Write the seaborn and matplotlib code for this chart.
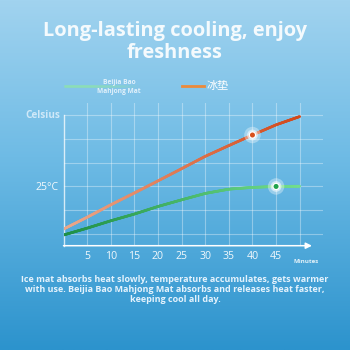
import numpy as np
import pandas as pd
import matplotlib
matplotlib.use("Agg")
import matplotlib.pyplot as plt
import seaborn as sns
from matplotlib.collections import LineCollection
from matplotlib.colors import LinearSegmentedColormap, to_rgba

# ---------------- data ----------------
minutes = [0, 5, 10, 15, 20, 25, 30, 35, 40, 45, 50]
ice_mat = [21.4, 22.4, 23.45, 24.45, 25.47, 26.5, 27.54, 28.45, 29.34, 30.2, 30.9]
mahjong_mat = [20.9, 21.48, 22.1, 22.67, 23.31, 23.87, 24.41, 24.77, 24.92, 25.0, 25.02]
x_tick_values = [5, 10, 15, 20, 25, 30, 35, 40, 45, 50]
x_tick_labels = ["5", "10", "15", "20", "25", "30", "35", "40", "45", ""]
y_grid_values = [21, 23, 25, 27, 29, 31]
y_grid_labels = ["", "", "25°C", "", "", ""]
series_names = ["Beijia Bao\nMahjong Mat", "冰垫"]
ice_highlight_idx = 8      # 40 min
mahjong_highlight_idx = 9  # 45 min

title_lines = ["Long-lasting cooling, enjoy", "freshness"]
footer_lines = [
    "Ice mat absorbs heat slowly, temperature accumulates, gets warmer",
    "with use. Beijia Bao Mahjong Mat absorbs and releases heat faster,",
    "keeping cool all day.",
]

FONT = ["Open Sans", "DejaVu Sans"]
CJK = ["Noto Sans CJK SC", "DejaVu Sans"]
plt.rcParams["font.family"] = FONT

W = H = 350
fig = plt.figure(figsize=(3.5, 3.5), dpi=100)

# ---------------- background gradient ----------------
bg = fig.add_axes([0, 0, 1, 1])
bg.set_axis_off()
bg_cmap = LinearSegmentedColormap.from_list(
    "bg", [(0.0, "#a1d3ef"), (0.45, "#6ebbe5"), (1.0, "#2c93cd")])
grad = np.linspace(0, 1, 256).reshape(-1, 1)
bg.imshow(grad, aspect="auto", cmap=bg_cmap, extent=[0, 1, 0, 1], origin="upper")
bg.set_xlim(0, 1)
bg.set_ylim(0, 1)

def px(x, y):
    return x / W, 1 - y / H

# ---------------- main axes ----------------
x0_px, x_end_px = 63.5, 323.0
ax_bottom_px, ax_top_px = 245.7, 103.0
ax = fig.add_axes([x0_px / W, 1 - ax_bottom_px / H,
                   (x_end_px - x0_px) / W, (ax_bottom_px - ax_top_px) / H])
ax.patch.set_alpha(0)

df = pd.DataFrame({"minutes": minutes, "ice": ice_mat, "mahjong": mahjong_mat})

def gradient_line(ax, col, c0, c1, lw):
    sns.lineplot(data=df, x="minutes", y=col, ax=ax, color=c1, lw=lw)
    line = ax.lines[-1]
    xy = line.get_xydata()
    line.set_visible(False)
    # subdivide polyline only for colour gradient
    t = np.linspace(0, len(xy) - 1, 400)
    xs = np.interp(t, np.arange(len(xy)), xy[:, 0])
    ys = np.interp(t, np.arange(len(xy)), xy[:, 1])
    pts = np.column_stack([xs, ys]).reshape(-1, 1, 2)
    segs = np.concatenate([pts[:-1], pts[1:]], axis=1)
    cmap = LinearSegmentedColormap.from_list("g", [c0, c1])
    lc = LineCollection(segs, colors=cmap(np.linspace(0, 1, len(segs))),
                        lw=lw, capstyle="round", zorder=4)
    ax.add_collection(lc)

gradient_line(ax, "ice", "#eba98c", "#d2481a", 1.9)
gradient_line(ax, "mahjong", "#1d8f45", "#72de8c", 1.9)

def highlight(ax, x, y, color):
    sns.scatterplot(x=[x], y=[y], ax=ax, s=140, color="white", alpha=0.35,
                    edgecolor="none", zorder=5, legend=False)
    sns.scatterplot(x=[x], y=[y], ax=ax, s=60, color="white", alpha=0.55,
                    edgecolor="none", zorder=6, legend=False)
    sns.scatterplot(x=[x], y=[y], ax=ax, s=28, color="white",
                    edgecolor="none", zorder=7, legend=False)
    sns.scatterplot(x=[x], y=[y], ax=ax, s=13, color=color,
                    edgecolor="none", zorder=8, legend=False)

highlight(ax, minutes[ice_highlight_idx], ice_mat[ice_highlight_idx], "#d8501c")
highlight(ax, minutes[mahjong_highlight_idx], mahjong_mat[mahjong_highlight_idx], "#1fa34c")

px_per_min = (299.7 - x0_px) / 50
ax.set_xlim(0, (x_end_px - x0_px) / px_per_min)
px_per_deg = 23.7 / 2
ax.set_ylim(20, 20 + (ax_bottom_px - ax_top_px) / px_per_deg)
for s in ax.spines.values():
    s.set_visible(False)

ax.set_xticks(x_tick_values)
ax.set_xticklabels(x_tick_labels)
ax.set_yticks(y_grid_values)
ax.set_yticklabels(y_grid_labels)
ax.tick_params(axis="both", length=0, colors=(1, 1, 1, 0.92), labelsize=7.6)
ax.tick_params(axis="x", pad=3.5)
ax.tick_params(axis="y", pad=3.5)
ax.grid(True, color="white", alpha=0.35, lw=0.8)
ax.set_axisbelow(True)
ax.set_xlabel("")
ax.set_ylabel("")

# axes lines
ax.plot([0, 0], [20, 31], color=(1, 1, 1, 0.75), lw=1.0, clip_on=False, zorder=2)
ax.annotate("", xy=(52.6, 20), xytext=(0, 20),
            arrowprops=dict(arrowstyle="-|>", color="white", lw=1.1,
                            mutation_scale=9, shrinkA=0, shrinkB=0),
            annotation_clip=False, zorder=3)

ax.text(-0.012, 31, "Celsius", transform=ax.get_yaxis_transform(),
        ha="right", va="center", fontsize=7.2, fontweight="bold",
        color=(0.85, 0.93, 0.98, 0.9))
ax.text(51.3, 18.85, "Minutes", ha="center", va="top", fontsize=4.4,
        fontweight="bold", color=(1, 1, 1, 0.85))

# ---------------- titles ----------------
fig.text(*px(175, 31), title_lines[0], ha="center", va="center",
         fontsize=14.4, fontweight="bold", color="#f4fafd")
fig.text(*px(175, 52.5), title_lines[1], ha="center", va="center",
         fontsize=14.4, fontweight="bold", color="#f4fafd")

# ---------------- legend ----------------
lx = np.linspace(64, 140, 80)
leg_pts = np.column_stack([lx / W, np.full_like(lx, 1 - 86 / H)]).reshape(-1, 1, 2)
leg_segs = np.concatenate([leg_pts[:-1], leg_pts[1:]], axis=1)
alphas = np.clip(1 - (lx[:-1] - 87) / 53, 0, 1)
green_rgba = np.array([to_rgba("#8fe6a6", a) for a in alphas])
fig.add_artist(LineCollection(leg_segs, colors=green_rgba, lw=1.8,
                              transform=fig.transFigure))
fig.text(*px(119, 87), series_names[0], ha="center", va="center",
         fontsize=4.8, fontweight="bold", color=(0.92, 0.96, 0.99, 0.9),
         linespacing=1.25)
fig.add_artist(plt.Line2D([182 / W, 204 / W], [1 - 86 / H, 1 - 86 / H],
                          color="#ec8a3a", lw=2.0, transform=fig.transFigure))
fig.text(*px(207, 86), series_names[1], ha="left", va="center",
         fontsize=8.0, family=CJK, color="white")

# ---------------- footer ----------------
for i, ln in enumerate(footer_lines):
    fig.text(*px(175, 279 + i * 10.4), ln, ha="center", va="center",
             fontsize=6.45, fontweight="bold", color=(0.93, 0.97, 1.0, 0.95))

fig.savefig("out.png", dpi=100)
